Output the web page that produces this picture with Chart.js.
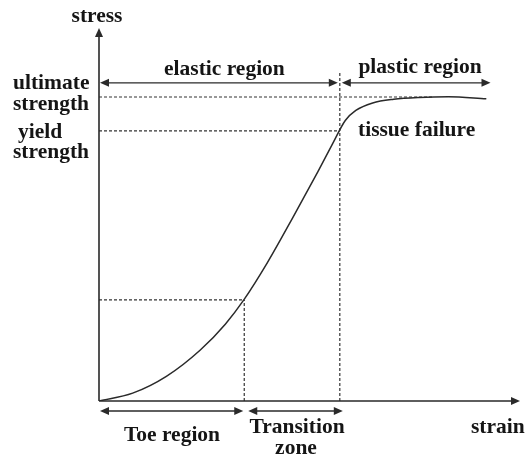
<!DOCTYPE html>
<html>
<head>
<meta charset="utf-8">
<script src="https://cdn.jsdelivr.net/npm/chart.js@4.4.1/dist/chart.umd.min.js"></script>
<style>
  html, body { margin: 0; padding: 0; background: #fff; }
  #wrap { width: 526px; height: 458px; }
</style>
</head>
<body>
<div id="wrap"><canvas id="chart" width="526" height="458"></canvas></div>
<script>
// stress-strain curve (arbitrary units, 0..10 on both axes)
const strain = [0, 0.8, 1.6, 2.4, 3.0, 3.44, 4.0, 4.6, 5.2, 5.55, 5.85, 6.1, 6.5, 7.0, 7.6, 8.3, 9.2];
const stress = [0, 0.21, 0.66, 1.36, 2.06, 2.71, 3.71, 4.91, 6.15, 6.90, 7.52, 7.79, 7.99, 8.09, 8.14, 8.16, 8.10];

const ultimateStress = 8.15;
const yieldStress = 7.24;
const toeEnd = 3.45;        // strain where the toe region ends
const toeStress = 2.71;
const failureStrain = 5.72; // end of elastic region
const ultimateLineEnd = 7.93;
const regionArrowLevel = 8.53;
const plasticEnd = 9.3;
const dividerTop = 8.8;

const LINE = '#2a2a2a';
const TEXT = '#151515';
const FONT = 'bold 21.5px "Liberation Serif", "DejaVu Serif", serif';

const curve = strain.map((s, i) => ({ x: s, y: stress[i] }));

function dashed(points) {
  return {
    data: points,
    showLine: true,
    borderColor: '#333',
    borderWidth: 1.2,
    borderDash: [3, 2],
    pointRadius: 0,
    tension: 0
  };
}

function head(ctx, x, y, dx, dy, len, w) {
  // filled triangle, tip at (x,y), pointing along (dx,dy)
  const px = -dy, py = dx;
  ctx.beginPath();
  ctx.moveTo(x, y);
  ctx.lineTo(x - dx * len + px * w, y - dy * len + py * w);
  ctx.lineTo(x - dx * len - px * w, y - dy * len - py * w);
  ctx.closePath();
  ctx.fill();
}

function dblArrow(ctx, x1, x2, y) {
  ctx.beginPath();
  ctx.moveTo(x1 + 4, y);
  ctx.lineTo(x2 - 4, y);
  ctx.stroke();
  head(ctx, x1, y, -1, 0, 9, 4);
  head(ctx, x2, y, 1, 0, 9, 4);
}

const labels = {
  id: 'labels',
  afterDatasetsDraw(chart) {
    const ctx = chart.ctx;
    const xs = chart.scales.x, ys = chart.scales.y;
    const X = v => xs.getPixelForValue(v), Y = v => ys.getPixelForValue(v);
    const x0 = X(0), y0 = Y(0);

    ctx.save();
    ctx.strokeStyle = LINE;
    ctx.fillStyle = LINE;
    ctx.lineWidth = 1.6;

    // axes with arrowheads
    ctx.beginPath();
    ctx.moveTo(x0, y0); ctx.lineTo(x0, Y(10) + 6);
    ctx.moveTo(x0, y0); ctx.lineTo(X(10) - 6, y0);
    ctx.stroke();
    head(ctx, x0, Y(10), 0, -1, 9, 4);
    head(ctx, X(10), y0, 1, 0, 9, 4);

    // region arrows
    ctx.lineWidth = 1.3;
    const ya = Y(regionArrowLevel);
    dblArrow(ctx, x0 + 1, X(failureStrain) - 2, ya);
    dblArrow(ctx, X(failureStrain) + 2, X(plasticEnd), ya);
    const yb = y0 + 10;
    dblArrow(ctx, x0 + 1, X(toeEnd) - 1, yb);
    dblArrow(ctx, X(toeEnd) + 4, X(failureStrain) + 3, yb);

    // text
    ctx.fillStyle = TEXT;
    ctx.font = FONT;
    ctx.textBaseline = 'alphabetic';
    ctx.textAlign = 'center';
    ctx.fillText('stress', x0 - 2, 22);
    ctx.fillText('elastic region', (x0 + X(failureStrain)) / 2 + 5, 75);
    ctx.fillText('plastic region', 420, 73);
    ctx.fillText('Toe region', 172, 441);
    ctx.fillText('Transition', 297, 433);
    ctx.fillText('zone', 296, 454);
    ctx.textAlign = 'left';
    ctx.fillText('ultimate', 13, 89);
    ctx.fillText('strength', 13, 110);
    ctx.fillText('yield', 18, 138);
    ctx.fillText('strength', 13, 158);
    ctx.fillText('tissue failure', 358, 136);
    ctx.fillText('strain', 471, 433);
    ctx.restore();
  }
};

new Chart(document.getElementById('chart'), {
  type: 'scatter',
  data: {
    datasets: [
      {
        data: curve,
        showLine: true,
        borderColor: LINE,
        borderWidth: 1.5,
        pointRadius: 0,
        cubicInterpolationMode: 'monotone'
      },
      dashed([{ x: 0, y: ultimateStress }, { x: ultimateLineEnd, y: ultimateStress }]),
      dashed([{ x: 0, y: yieldStress }, { x: failureStrain, y: yieldStress }]),
      dashed([{ x: failureStrain, y: 0 }, { x: failureStrain, y: dividerTop }]),
      dashed([{ x: 0, y: toeStress }, { x: toeEnd, y: toeStress }]),
      dashed([{ x: toeEnd, y: 0 }, { x: toeEnd, y: toeStress }])
    ]
  },
  options: {
    responsive: false,
    animation: false,
    layout: { padding: { left: 99, right: 6, top: 28, bottom: 57 } },
    scales: {
      x: { type: 'linear', min: 0, max: 10, display: false },
      y: { type: 'linear', min: 0, max: 10, display: false }
    },
    plugins: { legend: { display: false }, tooltip: { enabled: false } }
  },
  plugins: [labels]
});
</script>
</body>
</html>
